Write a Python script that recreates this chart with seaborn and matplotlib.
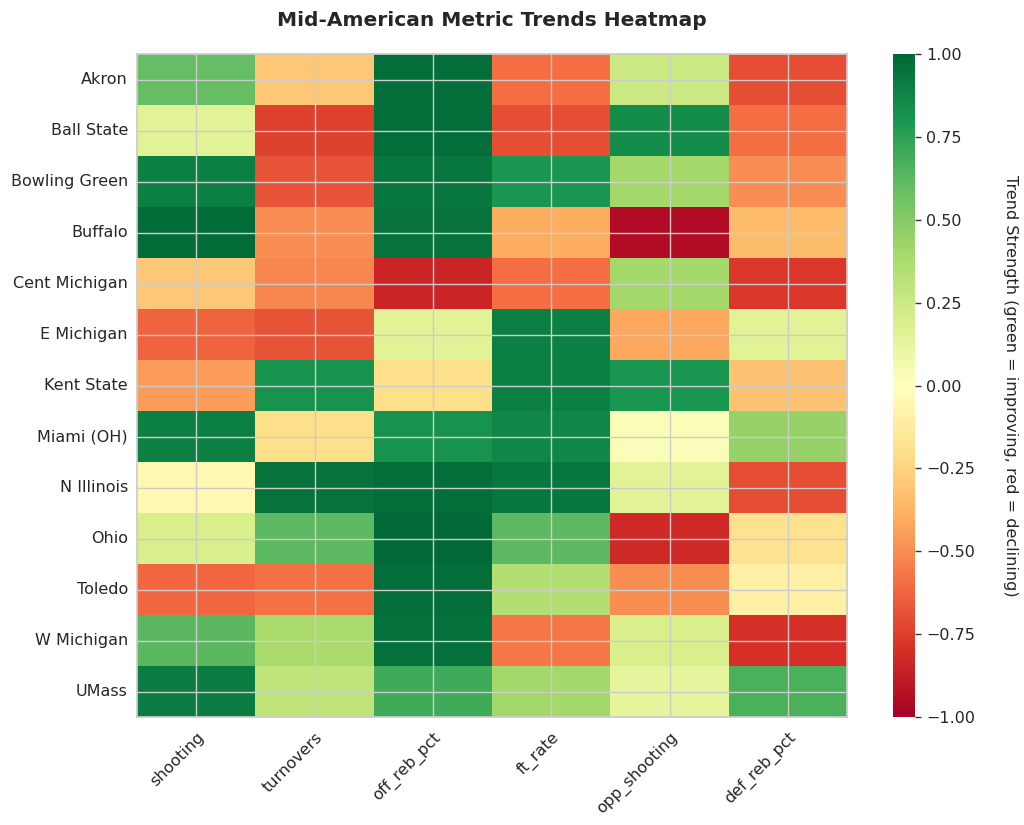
import numpy as np
import pandas as pd
import seaborn as sns
import matplotlib
matplotlib.use("Agg")
import matplotlib.pyplot as plt

teams = ["Akron", "Ball State", "Bowling Green", "Buffalo", "Cent Michigan",
         "E Michigan", "Kent State", "Miami (OH)", "N Illinois", "Ohio",
         "Toledo", "W Michigan", "UMass"]
metrics = ["shooting", "turnovers", "off_reb_pct", "ft_rate", "opp_shooting", "def_reb_pct"]

shooting     = [0.60, 0.15, 0.90, 0.98, -0.30, -0.63, -0.45, 0.90, -0.05, 0.20, -0.62, 0.63, 0.92]
turnovers    = [-0.30, -0.75, -0.68, -0.50, -0.52, -0.68, 0.82, -0.20, 0.95, 0.62, -0.58, 0.38, 0.30]
off_reb_pct  = [0.97, 0.97, 0.93, 0.95, -0.85, 0.15, -0.20, 0.82, 0.97, 0.99, 0.97, 0.96, 0.70]
ft_rate      = [-0.60, -0.70, 0.80, -0.40, -0.60, 0.90, 0.90, 0.87, 0.93, 0.62, 0.35, -0.57, 0.40]
opp_shooting = [0.25, 0.85, 0.40, -0.95, 0.40, -0.42, 0.80, 0.03, 0.15, -0.83, -0.50, 0.20, 0.13]
def_reb_pct  = [-0.70, -0.60, -0.50, -0.35, -0.78, 0.15, -0.32, 0.45, -0.70, -0.18, -0.10, -0.80, 0.67]

df = pd.DataFrame({
    "shooting": shooting, "turnovers": turnovers, "off_reb_pct": off_reb_pct,
    "ft_rate": ft_rate, "opp_shooting": opp_shooting, "def_reb_pct": def_reb_pct,
}, index=teams)[metrics]

sns.set_theme(style="whitegrid")
plt.rcParams['font.family'] = ['DejaVu Sans']

W, H = 1024, 825
fig = plt.figure(figsize=(10.24, 8.25), dpi=100)
ax = fig.add_axes([137 / W, (H - 717) / H, 710 / W, 663 / H])
cax = fig.add_axes([893 / W, (H - 717) / H, 22 / W, 663 / H])

hm = sns.heatmap(df, cmap="RdYlGn", vmin=-1, vmax=1, ax=ax, cbar_ax=cax,
                 cbar_kws={"label": "Trend Strength (green = improving, red = declining)",
                           "ticks": [-1, -0.75, -0.5, -0.25, 0, 0.25, 0.5, 0.75, 1.0]})
ax.set_axisbelow(False)
ax.grid(True, color=".8", linewidth=1)
for s in ax.spines.values():
    s.set_visible(True)
    s.set_color(".8")
ax.set_xlabel("")
ax.set_ylabel("")
ax.set_title("Mid-American Metric Trends Heatmap", fontsize=14.5, fontweight="bold", pad=20)
plt.setp(ax.get_xticklabels(), rotation=45, ha="right", rotation_mode="anchor", fontsize=11.5)
plt.setp(ax.get_yticklabels(), rotation=0, fontsize=11.5)
ax.tick_params(axis="x", length=0, pad=9)
ax.tick_params(axis="y", length=0, pad=6.5)

cbar = hm.collections[0].colorbar
cbar.outline.set_visible(True)
cbar.outline.set_edgecolor(".8")
cbar.ax.tick_params(labelsize=11.5, length=4, width=1, color="0.2", right=True, pad=4)
cbar.ax.yaxis.label.set_size(11.5)
cbar.ax.yaxis.label.set_rotation(270)
cbar.ax.yaxis.labelpad = 31

fig.savefig("out.png", dpi=100)
